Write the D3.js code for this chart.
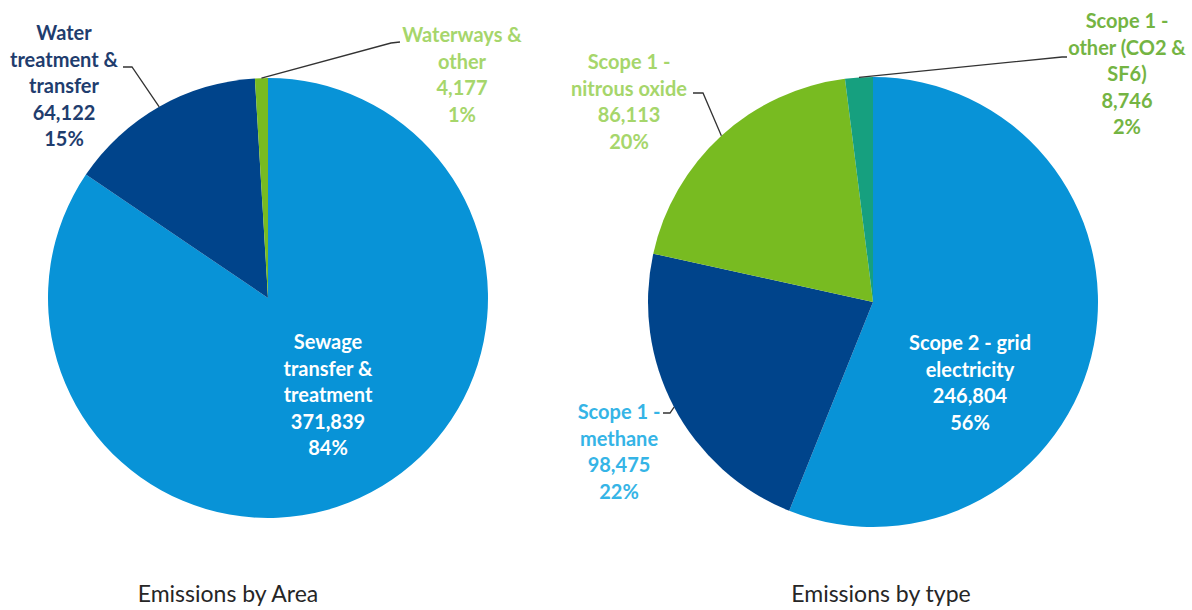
<!DOCTYPE html>
<html>
<head>
<meta charset="utf-8">
<script src="https://cdn.jsdelivr.net/npm/d3@7"></script>
<style>
 body { margin: 0; background: #fff; }
 .lbl { font-family: Lato, "Open Sans", sans-serif; font-weight: bold; font-size: 20px; }
 .title { font-family: Lato, "Open Sans", sans-serif; font-size: 23px; fill: #262626; }
</style>
</head>
<body>
<script>

// data
var areaNames = ['Sewage transfer & treatment', 'Water treatment & transfer', 'Waterways & other']
var areaValues = [371839, 64122, 4177]
var areaPct = ['84%', '15%', '1%']

var typeNames = ['Scope 2 - grid electricity', 'Scope 1 - methane', 'Scope 1 - nitrous oxide', 'Scope 1 - other (CO2 & SF6)']
var typeValues = [246804, 98475, 86113, 8746]
var typePct = ['56%', '22%', '20%', '2%']

var titles = ['Emissions by Area', 'Emissions by type']

// how the names wrap in the labels
var areaLines = [['Sewage', 'transfer &', 'treatment'], ['Water', 'treatment &', 'transfer'], ['Waterways &', 'other']]
var typeLines = [['Scope 2 - grid', 'electricity'], ['Scope 1 -', 'methane'], ['Scope 1 -', 'nitrous oxide'], ['Scope 1 -', 'other (CO2 &', 'SF6)']]

// layout / styles
var areaColors = ['#0893d7', '#00448b', '#78bb21']
var typeColors = ['#0893d7', '#00448b', '#78bb21', '#16a07f']
var areaText = ['#ffffff', '#1f3d6e', '#a6d66b']
var typeText = ['#ffffff', '#35b4e6', '#a6d66b', '#74b443']
// label anchor (x, first line y) and elbow of leader line (null = inside)
var areaPos = [[328, 342], [64, 33], [462, 35]]
var areaElbow = [null, [[123, 67], [132, 67]], [[400, 42], [391, 43]]]
var typePos = [[970, 343], [619, 412], [629, 62], [1127, 21]]
var typeElbow = [null, [[663, 413], [670, 413]], [[693, 93], [703, 93]], [[1067, 57], [1062, 57]]]

var lineH = 26.5

var svg = d3.select('body').append('svg').attr('width', 1192).attr('height', 610)

function drawPie(cx, cy, r, names, values, pct, lines, colors, textCols, pos, elbows, title, titleX) {

 var pie = d3.pie().sort(null).value(function(d) { return d })
 var arcs = pie(values)
 var arc = d3.arc().innerRadius(0).outerRadius(r)

 var g = svg.append('g').attr('transform', 'translate(' + cx + ',' + cy + ')')

 g.selectAll('path').data(arcs).enter().append('path')
  .attr('d', arc)
  .attr('fill', function(d, i) { return colors[i] })

 //leader lines, go to the edge at slice middle
 arcs.forEach(function(a, i) {
  if (!elbows[i]) return
  var mid = (a.startAngle + a.endAngle) / 2
  var edge = [cx + r * Math.sin(mid), cy - r * Math.cos(mid)]
  var pts = elbows[i].concat([edge])
  svg.append('path')
   .attr('d', d3.line()(pts))
   .attr('fill', 'none')
   .attr('stroke', '#333')
   .attr('stroke-width', 1.3)
 })

 var fmt = d3.format(',')

 arcs.forEach(function(a, i) {
  var txt = lines[i].concat([fmt(values[i]), pct[i]])
  var t = svg.append('text').attr('class', 'lbl')
   .attr('text-anchor', 'middle')
   .attr('fill', textCols[i])
  txt.forEach(function(s, k) {
   t.append('tspan').attr('x', pos[i][0]).attr('y', pos[i][1] + k * lineH + 7).text(s)
  })
 })

 svg.append('text').attr('class', 'title')
  .attr('x', titleX).attr('y', 602)
  .attr('text-anchor', 'middle')
  .text(title)
}

drawPie(268, 298, 220, areaNames, areaValues, areaPct, areaLines, areaColors, areaText, areaPos, areaElbow, titles[0], 228)
drawPie(873, 302, 225, typeNames, typeValues, typePct, typeLines, typeColors, typeText, typePos, typeElbow, titles[1], 881)

</script>
</body>
</html>
